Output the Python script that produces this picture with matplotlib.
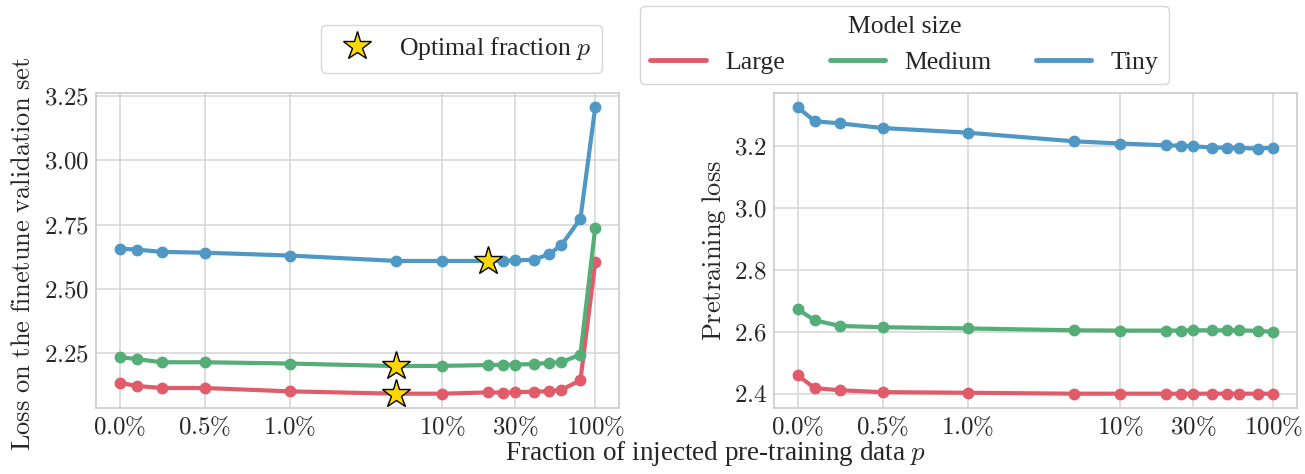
import numpy as np
import matplotlib
matplotlib.use("Agg")
import matplotlib.pyplot as plt
import seaborn as sns
from matplotlib.lines import Line2D

# data: fraction of injected pre-training data (in percent)
fractions = [0, 0.1, 0.25, 0.5, 1, 5, 10, 20, 25, 30, 40, 50, 60, 80, 100]

# finetune validation loss
ft_large = [2.136, 2.124, 2.116, 2.116, 2.103, 2.094, 2.094, 2.099, 2.098, 2.100, 2.102, 2.103, 2.109, 2.146, 2.604]
ft_medium = [2.236, 2.228, 2.216, 2.216, 2.211, 2.201, 2.202, 2.205, 2.206, 2.207, 2.209, 2.214, 2.216, 2.246, 2.737]
ft_tiny = [2.657, 2.653, 2.644, 2.641, 2.630, 2.609, 2.609, 2.609, 2.609, 2.611, 2.614, 2.636, 2.670, 2.773, 3.205]

# pretraining loss
pt_large = [2.459, 2.418, 2.411, 2.405, 2.403, 2.400, 2.400, 2.400, 2.400, 2.400, 2.400, 2.400, 2.400, 2.400, 2.400]
pt_medium = [2.673, 2.637, 2.619, 2.615, 2.611, 2.605, 2.604, 2.604, 2.604, 2.605, 2.605, 2.605, 2.605, 2.603, 2.600]
pt_tiny = [3.326, 3.281, 3.274, 3.259, 3.244, 3.216, 3.209, 3.203, 3.202, 3.200, 3.196, 3.195, 3.195, 3.192, 3.196]

# optimal fraction per model (index into fractions)
opt_idx = {"Large": 5, "Medium": 5, "Tiny": 7}

model_names = ["Large", "Medium", "Tiny"]
colors = {"Large": "#E05C6A", "Medium": "#55AD77", "Tiny": "#4F97C4"}

xticks = [0, 0.5, 1, 10, 30, 100]
xtick_labels = [r"$0.0\%$", r"$0.5\%$", r"$1.0\%$", r"$10\%$", r"$30\%$", r"$100\%$"]
left_yticks = [2.25, 2.50, 2.75, 3.00, 3.25]
right_yticks = [2.4, 2.6, 2.8, 3.0, 3.2]

sns.set_style("whitegrid")
plt.rcParams["font.family"] = ["Liberation Serif", "DejaVu Serif"]
plt.rcParams["mathtext.fontset"] = "cm"
plt.rcParams["font.size"] = 18
plt.rcParams["text.color"] = "#262626"

fig = plt.figure(figsize=(13.05, 4.74), dpi=100)
ax1 = fig.add_axes([96 / 1305, 66 / 474, 523 / 1305, 315 / 474])
ax2 = fig.add_axes([774 / 1305, 66 / 474, 523 / 1305, 315 / 474])

ft = {"Large": ft_large, "Medium": ft_medium, "Tiny": ft_tiny}
pt = {"Large": pt_large, "Medium": pt_medium, "Tiny": pt_tiny}

for name in model_names:
    ax1.plot(fractions, ft[name], color=colors[name], lw=3, marker="o", ms=7.5, zorder=3)
    ax2.plot(fractions, pt[name], color=colors[name], lw=3, marker="o", ms=7.5, zorder=3)
    i = opt_idx[name]
    ax1.plot(fractions[i], ft[name][i], marker="*", ms=21, color="#FFD700",
             mec="black", mew=1.0, zorder=5, ls="none")

for ax, yt in [(ax1, left_yticks), (ax2, right_yticks)]:
    ax.set_xscale("symlog", linthresh=1, linscale=1)
    ax.set_xticks(xticks)
    ax.set_xticklabels(xtick_labels)
    ax.xaxis.set_minor_locator(matplotlib.ticker.NullLocator())
    ax.set_yticks(yt)
    ax.tick_params(labelsize=18, pad=5, length=0, labelcolor="#262626")
    for sp in ax.spines.values():
        sp.set_color("#cccccc")
        sp.set_linewidth(1.2)
    ax.grid(color="#d5d5d5", lw=1.1)

ax1.set_yticklabels(["$%.2f$" % v for v in left_yticks])
ax2.set_yticklabels(["$%.1f$" % v for v in right_yticks])

ax1.set_ylabel(r"$\mathrm{Loss\ on\ the\ finetune\ validation\ set}$", fontsize=19)
ax1.yaxis.set_label_coords(-0.117, 0.49)
ax2.set_ylabel(r"$\mathrm{Pretraining\ loss}$", fontsize=19)
ax2.yaxis.set_label_coords(-0.088, 0.5)

fig.text(716 / 1305, 1 - 453 / 474, "Fraction of injected pre-training data $p$",
         ha="center", va="center", fontsize=19.5)

# legends
star_handle = Line2D([], [], ls="none", marker="*", ms=21, color="#FFD700", mec="black", mew=1.0)
fig.legend([star_handle], ["Optimal fraction $p$"], loc="upper left",
           bbox_to_anchor=(321 / 1305, 1 - 25 / 474), borderaxespad=0, fontsize=18.5,
           frameon=True, edgecolor="#cccccc", handletextpad=0.65, borderpad=0.4)

line_handles = [Line2D([], [], color=colors[n], lw=3.5) for n in model_names]
leg = fig.legend(line_handles, model_names, loc="upper left", ncol=3,
                 bbox_to_anchor=(640 / 1305, 1 - 6 / 474), borderaxespad=0, fontsize=18.5,
                 title="Model size", title_fontsize=18.5, frameon=True, edgecolor="#cccccc",
                 handlelength=2.15, handletextpad=0.75, columnspacing=1.75, borderpad=0.4)

fig.savefig("out.png", dpi=100)
